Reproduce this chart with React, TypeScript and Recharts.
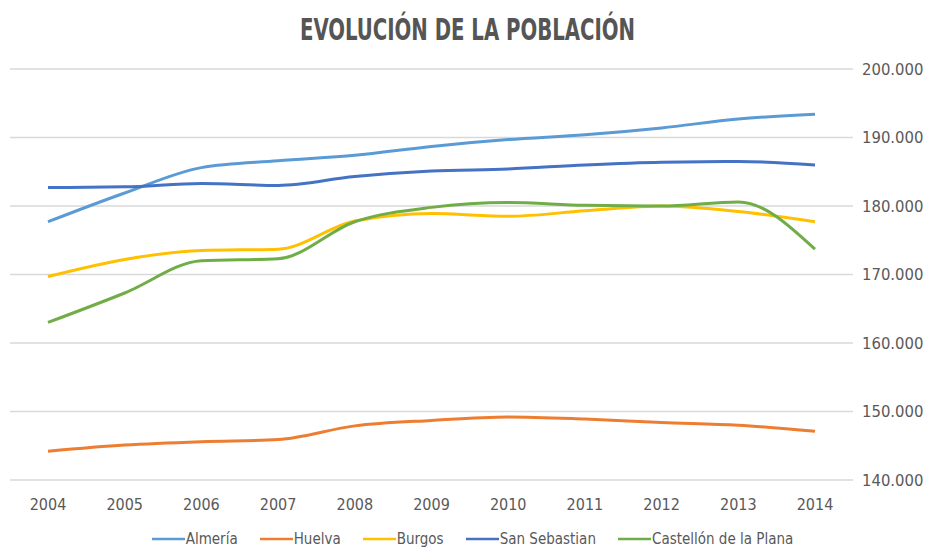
import { CartesianGrid, Legend, Line, LineChart, XAxis, YAxis } from "recharts";

const YEARS = ["2004", "2005", "2006", "2007", "2008", "2009", "2010", "2011", "2012", "2013", "2014"];

const ALMERIA = [177700, 181900, 185600, 186600, 187400, 188700, 189700, 190400, 191400, 192700, 193400];
const HUELVA = [144200, 145100, 145600, 145900, 147900, 148700, 149200, 148900, 148400, 148000, 147100];
const BURGOS = [169700, 172200, 173500, 173700, 177800, 178900, 178500, 179300, 180000, 179200, 177700];
const SAN_SEBASTIAN = [182700, 182800, 183300, 183000, 184300, 185100, 185400, 186000, 186400, 186500, 186000];
const CASTELLON = [163000, 167300, 172000, 172300, 177700, 179800, 180500, 180100, 180000, 180600, 173700];

const Y_TICKS = [140000, 150000, 160000, 170000, 180000, 190000, 200000];

const SERIES = [
  { key: "almeria", label: "Almería", color: "#5b9bd5", values: ALMERIA },
  { key: "huelva", label: "Huelva", color: "#ed7d31", values: HUELVA },
  { key: "burgos", label: "Burgos", color: "#ffc000", values: BURGOS },
  { key: "sanSebastian", label: "San Sebastian", color: "#4472c4", values: SAN_SEBASTIAN },
  { key: "castellon", label: "Castellón de la Plana", color: "#70ad47", values: CASTELLON },
];

const data = YEARS.map((year, i) => {
  const row: Record<string, string | number> = { year };
  SERIES.forEach((s) => (row[s.key] = s.values[i]));
  return row;
});

const NARROW = "'DejaVu Sans Condensed', 'Liberation Sans', sans-serif";

function fmtThousands(v: number) {
  return String(v).replace(/\B(?=(\d{3})+(?!\d))/g, ".");
}

function LegendRow() {
  return (
    <div style={{ display: "flex", justifyContent: "center", gap: 22, fontFamily: NARROW, fontSize: 15, color: "#595959" }}>
      {SERIES.map((s) => (
        <span key={s.key} style={{ display: "inline-flex", alignItems: "center" }}>
          <svg width={33} height={6} style={{ marginRight: 1 }}>
            <line x1={0} y1={3} x2={33} y2={3} stroke={s.color} strokeWidth={2.5} />
          </svg>
          {s.label}
        </span>
      ))}
    </div>
  );
}

export default function App() {
  return (
    <div style={{ position: "absolute", left: 0, top: 0, width: 935, height: 550, background: "#fff" }}>
      {/* ── Title (condensed look via scaleX) ── */}
      <div style={{ position: "absolute", top: 12, width: "100%", textAlign: "center" }}>
        <span
          style={{
            display: "inline-block",
            transform: "scaleX(0.73)",
            fontFamily: NARROW,
            fontWeight: 700,
            fontSize: 30,
            color: "#555555",
          }}
        >
          EVOLUCIÓN DE LA POBLACIÓN
        </span>
      </div>
      <LineChart width={935} height={550} data={data} margin={{ top: 69, right: 0, left: 10, bottom: 0 }}>
        <CartesianGrid vertical={false} stroke="#d9d9d9" strokeWidth={1.5} />
        <XAxis
          dataKey="year"
          padding={{ left: 38, right: 38 }}
          axisLine={false}
          tickLine={false}
          tickSize={0}
          tickMargin={19}
          height={50}
          tick={{ fontFamily: NARROW, fontSize: 16, fill: "#595959" }}
        />
        <YAxis
          orientation="right"
          domain={[140000, 200000]}
          ticks={Y_TICKS}
          tickFormatter={fmtThousands}
          axisLine={false}
          tickLine={false}
          tickSize={0}
          tickMargin={9}
          width={82}
          tick={{ fontFamily: NARROW, fontSize: 16.5, fill: "#595959" }}
        />
        <Legend verticalAlign="bottom" height={20} content={() => <LegendRow />} />
        {SERIES.map((s) => (
          <Line
            key={s.key}
            type="monotone"
            dataKey={s.key}
            name={s.label}
            stroke={s.color}
            strokeWidth={3}
            dot={false}
            isAnimationActive={false}
          />
        ))}
      </LineChart>
    </div>
  );
}
